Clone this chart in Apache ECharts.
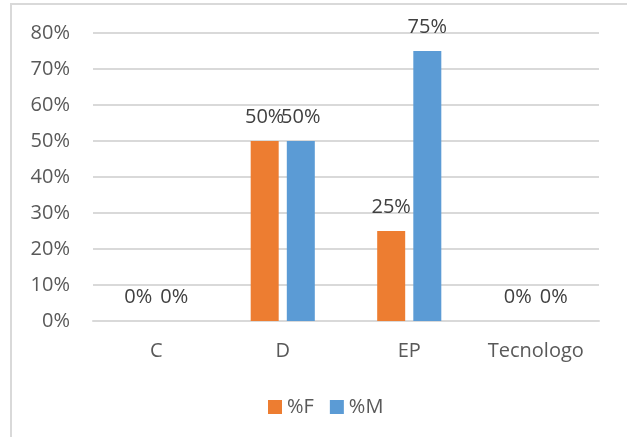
<!DOCTYPE html>
<html>
<head>
<meta charset="utf-8">
<script src="https://cdn.jsdelivr.net/npm/echarts@6/dist/echarts.min.js"></script>
<style>html,body{margin:0;padding:0;background:#fff}#c{width:627px;height:437px}</style>
</head>
<body>
<div id="c"></div>
<script>
var categories = ['C', 'D', 'EP', 'Tecnologo'];
var seriesNames = ['%F', '%M'];
var valuesF = [0, 0.5, 0.25, 0];
var valuesM = [0, 0.5, 0.75, 0];
var yTicks = [0, 0.1, 0.2, 0.3, 0.4, 0.5, 0.6, 0.7, 0.8];

var font = "'Open Sans', 'Noto Sans', sans-serif";
var pct = function (v) { return Math.round(v * 100) + '%'; };
var chart = echarts.init(document.getElementById('c'), null, {renderer: 'canvas'});
var labelOpt = {
  show: true, position: 'top', distance: 14,
  color: '#404040', fontSize: 20, fontFamily: font,
  formatter: function (p) { return pct(p.value); }
};
chart.setOption({
  animation: false,
  backgroundColor: '#fff',
  graphic: [{
    type: 'rect', silent: true,
    shape: {x: 11, y: 4, width: 800, height: 600},
    style: {fill: 'none', stroke: '#d9d9d9', lineWidth: 2}
  }],
  grid: {left: 93, right: 28, top: 33, bottom: 116},
  legend: {
    data: seriesNames, left: 263, top: 392,
    itemWidth: 14, itemHeight: 14, itemGap: 16, icon: 'rect',
    textStyle: {color: '#595959', fontSize: 20, fontFamily: font}
  },
  xAxis: {
    type: 'category', data: categories,
    axisLine: {show: true, lineStyle: {color: '#d9d9d9', width: 2}},
    axisTick: {show: false},
    axisLabel: {color: '#595959', fontSize: 20, fontFamily: font, margin: 20}
  },
  yAxis: {
    type: 'value', min: yTicks[0], max: yTicks[yTicks.length - 1], interval: 0.1,
    axisLine: {show: false}, axisTick: {show: false},
    splitLine: {lineStyle: {color: '#d9d9d9', width: 2}},
    axisLabel: {color: '#595959', fontSize: 20, fontFamily: font, margin: 23, formatter: pct}
  },
  series: [
    {name: seriesNames[0], type: 'bar', data: valuesF, barWidth: 28, barGap: '29%',
     itemStyle: {color: '#ED7D31'}, label: labelOpt},
    {name: seriesNames[1], type: 'bar', data: valuesM, barWidth: 28, barGap: '29%',
     itemStyle: {color: '#5B9BD5'}, label: labelOpt}
  ]
});
</script>
</body>
</html>
